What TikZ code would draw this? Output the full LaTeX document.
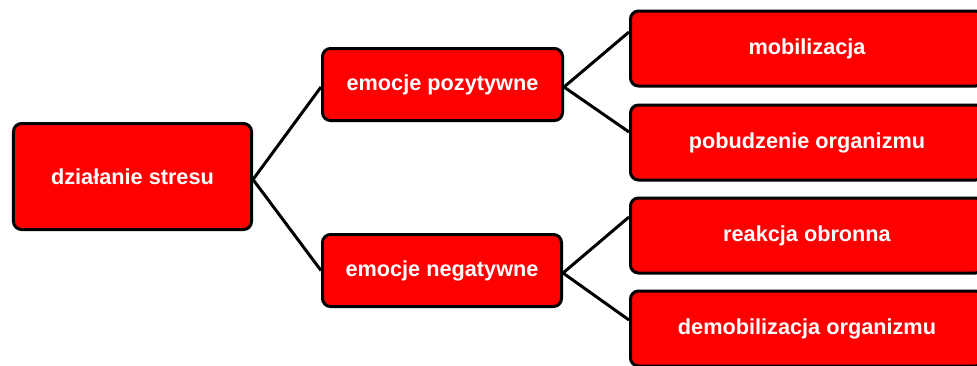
\documentclass[tikz,border=0pt]{standalone}
\usepackage{fontspec}
\setmainfont{Liberation Sans}
\usetikzlibrary{calc}
\begin{document}
\begin{tikzpicture}[x=1bp,y=-1bp,
  box/.style={draw=black, line width=3bp, fill=red, rounded corners=8bp,
    text=white, font=\bfseries\fontsize{21.7bp}{26bp}\selectfont,
    inner sep=0pt, align=center},
  conn/.style={draw=black, line width=3bp}]
\useasboundingbox (0,0) rectangle (977,365);
\clip (0,0) rectangle (977,365);
\node[box, minimum width=238bp, minimum height=106bp] (s) at (132.5,176.5) {działanie stresu};
\node[box, minimum width=240bp, minimum height=72bp] (p) at (442.5,84.5) {emocje pozytywne};
\node[box, minimum width=239bp, minimum height=72bp] (n) at (442,270.5) {emocje negatywne};
\node[box, minimum width=353bp, minimum height=75bp] (m) at (807,48.5) {mobilizacja};
\node[box, minimum width=353bp, minimum height=75bp] (o) at (807,142.5) {pobudzenie organizmu};
\node[box, minimum width=353bp, minimum height=75bp] (r) at (807,235.5) {reakcja obronna};
\node[box, minimum width=353bp, minimum height=75bp] (d) at (807,328.5) {demobilizacja organizmu};
\draw[conn] ($(s.east)+(0,3)$) -- ($(p.west)+(0,2.5)$);
\draw[conn] ($(s.east)+(0,3)$) -- ($(n.west)+(0,0)$);
\draw[conn] ($(p.east)+(0,2.5)$) -- ($(m.west)+(0,-16.5)$);
\draw[conn] ($(p.east)+(0,2.5)$) -- ($(o.west)+(0,-10.5)$);
\draw[conn] ($(n.east)+(0,2.5)$) -- ($(r.west)+(0,-18.5)$);
\draw[conn] ($(n.east)+(0,2.5)$) -- ($(d.west)+(0,-8.5)$);
\end{tikzpicture}
\end{document}
